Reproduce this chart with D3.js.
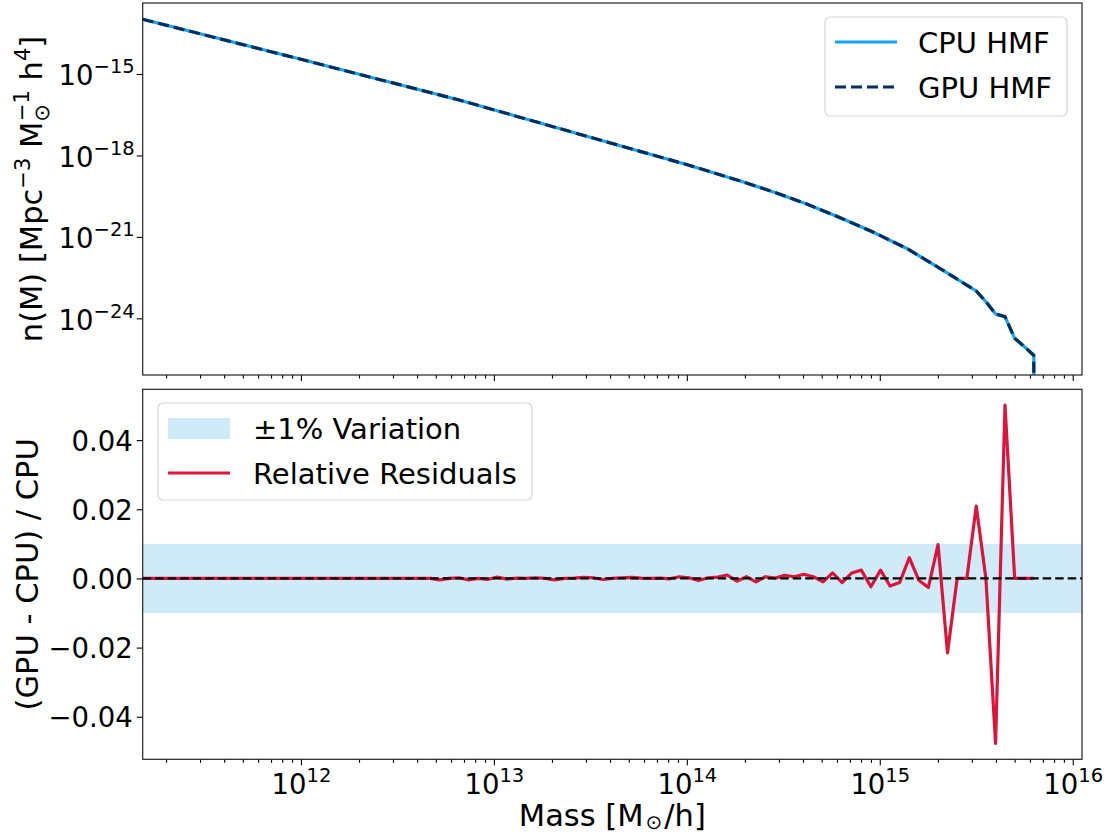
<!DOCTYPE html>
<html><head><meta charset="utf-8">
<script src="https://cdn.jsdelivr.net/npm/d3@7"></script>
<style>
body{margin:0;background:#fff;}
text{font-family:"DejaVu Sans",sans-serif;fill:#000;}
</style></head><body>
<svg id="chart" width="1115" height="834"></svg>
<script>
// ---------- data ----------
// log10 of halo mass grid (M_sun/h) for the residual series
const massExp = [11.180,11.230,11.279,11.329,11.379,11.428,11.478,11.528,11.577,11.627,
11.677,11.726,11.776,11.826,11.875,11.925,11.975,12.024,12.074,12.124,
12.173,12.223,12.273,12.322,12.372,12.422,12.471,12.521,12.570,12.620,
12.670,12.719,12.769,12.819,12.868,12.918,12.968,13.017,13.067,13.117,
13.166,13.216,13.266,13.315,13.365,13.415,13.464,13.514,13.564,13.613,
13.663,13.713,13.762,13.812,13.862,13.911,13.961,14.011,14.060,14.110,
14.160,14.209,14.259,14.309,14.358,14.408,14.458,14.507,14.557,14.606,
14.656,14.706,14.755,14.805,14.855,14.904,14.954,15.004,15.053,15.103,
15.153,15.202,15.252,15.302,15.351,15.401,15.451,15.500,15.550,15.600,
15.649,15.699,15.749,15.798];
const residuals = [0,0,0,0,0,0,0,0,0,0,
0,0,0,0,0,0,0,0,0,0,
0,0,0,0,0,0,0,0,0,0,
0,-0.0004,0,0.0002,-0.0004,0,-0.0003,0.0004,-0.0002,0.0001,
0,0.0002,0,-0.0004,0,0.0001,0.0003,0.0002,-0.0003,0,
0.0002,0.0003,0.0001,0,0.0001,-0.0001,0.0005,0.0002,-0.0006,0.0002,
0.0004,0.001,-0.0008,0.0005,-0.001,0.0005,0.0001,0.0009,0.0005,0.0012,
0.0005,-0.001,0.0016,-0.0012,0.0016,0.0024,-0.0024,0.0024,-0.0022,-0.0012,
0.006,-0.0005,-0.0026,0.0098,-0.0215,0,0,0.0209,0,-0.0477,
0.0501,0,0,0];
// HMF read-off points
const hmfMassExp = [11.180,12.000,12.820,13.599,13.998,14.273,14.445,14.621,14.792,14.964,
15.140,15.311,15.500,15.550,15.600,15.649,15.699,15.749,15.798,15.848];
const cpuHMF = [1.035e-13,3.475e-15,1.102e-16,2.951e-18,4.645e-19,1.175e-19,4.624e-20,1.629e-20,5.188e-21,1.514e-21,
3.741e-22,6.966e-23,1.016e-23,4.102e-24,1.445e-24,1.151e-24,1.841e-25,9.12e-26,4.365e-26,0];
const gpuHMF = [1.035e-13,3.475e-15,1.102e-16,2.951e-18,4.645e-19,1.175e-19,4.624e-20,1.629e-20,5.188e-21,1.514e-21,
3.741e-22,6.966e-23,1.016e-23,4.102e-24,1.445e-24,1.151e-24,1.841e-25,9.12e-26,4.365e-26,0];
const xMajorTicks = [1e12,1e13,1e14,1e15,1e16];
const xTickExps = ["12","13","14","15","16"];
const yTopTicks = [1e-15,1e-18,1e-21,1e-24];
const yTopTickExps = ["\u221215","\u221218","\u221221","\u221224"];
const yBotTicks = [-0.04,-0.02,0,0.02,0.04];
const bandHalf = 0.01;

// ---------- layout ----------
const svg = d3.select("#chart");
const L = 142.7, R = 1082, T1 = 3, B1 = 375, T2 = 389.3, B2 = 759.3;
const TICK_FS = 27.5, SUP_FS = 19.5, LAB_FS = 30.5, LEG_FS = 29;

const x = d3.scaleLog().domain([Math.pow(10,11.18), Math.pow(10,16.048)]).range([L,R]);
const yTop = d3.scaleLog().domain([Math.pow(10,-26.087), Math.pow(10,-12.385)]).range([B1,T1]);
const yBot = d3.scaleLinear().domain([-0.0523,0.0547]).range([B2,T2]);

const defs = svg.append("defs");
defs.append("clipPath").attr("id","clipTop").append("rect").attr("x",L).attr("y",T1).attr("width",R-L).attr("height",B1-T1);
defs.append("clipPath").attr("id","clipBot").append("rect").attr("x",L).attr("y",T2).attr("width",R-L).attr("height",B2-T2);

const minorTicks = x.ticks().filter(v => !xMajorTicks.some(m => Math.abs(m-v)/m < 1e-6));

function clean(g){
  g.select(".domain").remove();
  g.selectAll(".tick line").attr("stroke","#000").attr("stroke-width",1.1);
  g.selectAll(".tick text").remove();
}

// ---------- top panel ----------
const topG = svg.append("g");
const hmfIdx = d3.range(hmfMassExp.length);
const safe = v => v > 0 ? v : 1e-300;
const lineTop = arr => d3.line()
  .x(i => x(Math.pow(10,hmfMassExp[i])))
  .y(i => Math.min(yTop(safe(arr[i])), B1 + 2000))(hmfIdx);
const gTopLines = topG.append("g").attr("clip-path","url(#clipTop)");
gTopLines.append("path").attr("d",lineTop(cpuHMF)).attr("fill","none")
  .attr("stroke","#12a6f2").attr("stroke-width",3.2).attr("stroke-linejoin","round");
gTopLines.append("path").attr("d",lineTop(gpuHMF)).attr("fill","none")
  .attr("stroke","#002d5c").attr("stroke-width",3.2).attr("stroke-dasharray","11,5");

topG.append("g").attr("transform",`translate(0,${B1})`)
  .call(d3.axisBottom(x).tickValues(xMajorTicks).tickSize(6)).call(clean);
topG.append("g").attr("transform",`translate(0,${B1})`)
  .call(d3.axisBottom(x).tickValues(minorTicks).tickSize(3.5)).call(clean);
const yTopAxis = topG.append("g").attr("transform",`translate(${L},0)`)
  .call(d3.axisLeft(yTop).tickValues(yTopTicks).tickSize(6)).call(clean);
yTopAxis.selectAll(".tick").each(function(d,i){
  const t = d3.select(this).append("text").attr("x",-8).attr("y",11)
    .attr("text-anchor","end").style("font-size",TICK_FS+"px");
  t.append("tspan").text("10");
  t.append("tspan").attr("dy",-12).style("font-size",SUP_FS+"px").text(yTopTickExps[i]);
});
topG.append("rect").attr("x",L).attr("y",T1).attr("width",R-L).attr("height",B1-T1)
  .attr("fill","none").attr("stroke","#222").attr("stroke-width",1.2);

// top y label
const ylab1 = svg.append("text").attr("transform","translate(42,189) rotate(-90)")
  .attr("text-anchor","middle").style("font-size",LAB_FS+"px");
ylab1.append("tspan").text("n(M) [Mpc");
ylab1.append("tspan").attr("dy",-12).style("font-size","21px").text("\u22123");
ylab1.append("tspan").attr("dy",12).text(" M");
ylab1.append("tspan").attr("dy",7).style("font-size","21px").text("\u2299");
ylab1.append("tspan").attr("dy",-20).attr("dx",-17).style("font-size","21px").text("\u22121");
ylab1.append("tspan").attr("dy",13).text(" h");
ylab1.append("tspan").attr("dy",-12).style("font-size","21px").text("4");
ylab1.append("tspan").attr("dy",12).text("]");

// top legend
const lg1 = svg.append("g");
lg1.append("rect").attr("x",825).attr("y",17).attr("width",242).attr("height",99).attr("rx",5)
  .attr("fill","#fff").attr("fill-opacity",0.8).attr("stroke","#d6d6d6").attr("stroke-width",1.2);
lg1.append("line").attr("x1",835).attr("x2",897).attr("y1",42).attr("y2",42)
  .attr("stroke","#12a6f2").attr("stroke-width",3.2);
lg1.append("line").attr("x1",835).attr("x2",897).attr("y1",87).attr("y2",87)
  .attr("stroke","#002d5c").attr("stroke-width",3.2).attr("stroke-dasharray","11,5");
lg1.append("text").attr("x",918).attr("y",52.5).style("font-size",LEG_FS+"px").text("CPU HMF");
lg1.append("text").attr("x",918).attr("y",97.5).style("font-size",LEG_FS+"px").text("GPU HMF");

// ---------- bottom panel ----------
const botG = svg.append("g");
const gBot = botG.append("g").attr("clip-path","url(#clipBot)");
gBot.append("rect").attr("x",L).attr("width",R-L)
  .attr("y",yBot(bandHalf)).attr("height",yBot(-bandHalf)-yBot(bandHalf))
  .attr("fill","#87ceeb").attr("fill-opacity",0.4);
const resIdx = d3.range(massExp.length);
gBot.append("path").attr("d", d3.line()
    .x(i => x(Math.pow(10,massExp[i])))
    .y(i => yBot(residuals[i]))(resIdx))
  .attr("fill","none").attr("stroke","#dc143c").attr("stroke-width",3.2).attr("stroke-linejoin","round");
gBot.append("line").attr("x1",L).attr("x2",R).attr("y1",yBot(0)).attr("y2",yBot(0))
  .attr("stroke","#000").attr("stroke-width",2.2).attr("stroke-dasharray","8.5,4");

const xBotAxis = botG.append("g").attr("transform",`translate(0,${B2})`)
  .call(d3.axisBottom(x).tickValues(xMajorTicks).tickSize(6)).call(clean);
botG.append("g").attr("transform",`translate(0,${B2})`)
  .call(d3.axisBottom(x).tickValues(minorTicks).tickSize(3.5)).call(clean);
xBotAxis.selectAll(".tick").each(function(d,i){
  const t = d3.select(this).append("text").attr("x",0).attr("y",35)
    .attr("text-anchor","middle").style("font-size",TICK_FS+"px");
  t.append("tspan").text("10");
  t.append("tspan").attr("dy",-12).style("font-size",SUP_FS+"px").text(xTickExps[i]);
});
const yBotAxis = botG.append("g").attr("transform",`translate(${L},0)`)
  .call(d3.axisLeft(yBot).tickValues(yBotTicks).tickSize(6)).call(clean);
yBotAxis.selectAll(".tick").append("text").attr("x",-10).attr("y",10)
  .attr("text-anchor","end").style("font-size",TICK_FS+"px")
  .text(d => d3.format(".2f")(d).replace("-","\u2212"));
botG.append("rect").attr("x",L).attr("y",T2).attr("width",R-L).attr("height",B2-T2)
  .attr("fill","none").attr("stroke","#222").attr("stroke-width",1.2);

svg.append("text").attr("transform",`translate(38,${(T2+B2)/2}) rotate(-90)`)
  .attr("text-anchor","middle").style("font-size",LAB_FS+"px").text("(GPU - CPU) / CPU");

const xlab = svg.append("text").attr("x",(L+R)/2).attr("y",826)
  .attr("text-anchor","middle").style("font-size",LAB_FS+"px");
xlab.append("tspan").text("Mass [M");
xlab.append("tspan").attr("dy",3).attr("dx",2).style("font-size","20px").text("\u2299");
xlab.append("tspan").attr("dy",-3).attr("dx",2).text("/h]");

// bottom legend
const lg2 = svg.append("g");
lg2.append("rect").attr("x",158).attr("y",403).attr("width",374).attr("height",97).attr("rx",5)
  .attr("fill","#fff").attr("fill-opacity",0.8).attr("stroke","#d6d6d6").attr("stroke-width",1.2);
lg2.append("rect").attr("x",168).attr("y",418).attr("width",62).attr("height",21)
  .attr("fill","#87ceeb").attr("fill-opacity",0.4);
lg2.append("line").attr("x1",168).attr("x2",230).attr("y1",473).attr("y2",473)
  .attr("stroke","#dc143c").attr("stroke-width",3.2);
lg2.append("text").attr("x",253).attr("y",439).style("font-size",LEG_FS+"px").text("\u00b11% Variation");
lg2.append("text").attr("x",253).attr("y",484).style("font-size",LEG_FS+"px").text("Relative Residuals");
</script>
</body></html>
